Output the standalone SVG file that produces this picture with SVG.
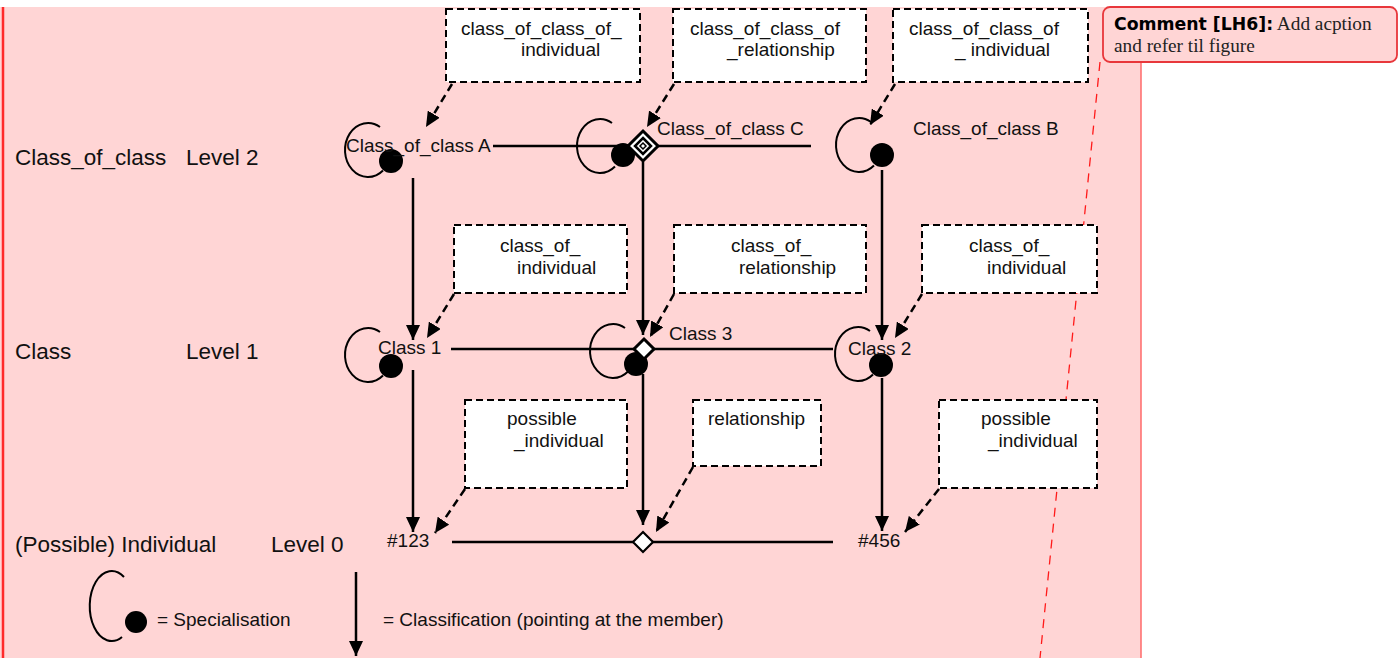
<svg xmlns="http://www.w3.org/2000/svg" width="1398" height="658" viewBox="0 0 1398 658">
<style>
.t{font-family:"Liberation Sans",Arial,sans-serif;font-size:19px;fill:#111}
.big{font-family:"Liberation Sans",Arial,sans-serif;font-size:22.5px;fill:#111}
.box{fill:#fff;stroke:#000;stroke-width:2;stroke-dasharray:7 4}
.dash{stroke:#000;stroke-width:2.5;stroke-dasharray:8 5;fill:none}
.solid{stroke:#000;stroke-width:2.5;fill:none}
.loop{stroke:#000;stroke-width:2;fill:none}
.dot{fill:#000}
.dia{fill:#fff;stroke:#000}
</style>
<defs>
<marker id="ah" markerUnits="userSpaceOnUse" markerWidth="16" markerHeight="14" refX="15" refY="7" orient="auto" viewBox="0 0 16 14">
<path d="M0,0 L15,7 L0,14 z" fill="#000"/>
</marker>
</defs>
<rect x="0" y="7" width="1141" height="651" fill="#ffd5d5"/>
<line x1="3" y1="7" x2="3" y2="658" stroke="#ff2a2a" stroke-width="2.5"/>
<line x1="1141" y1="62" x2="1141" y2="658" stroke="#ff6a6a" stroke-width="1.5"/>
<line x1="1100" y1="62" x2="1040" y2="658" stroke="#ff1a1a" stroke-width="1.3" stroke-dasharray="9 7"/>
<g id="comment">
<rect x="1103" y="7" width="294" height="55" rx="7" fill="#ffd5d5" stroke="#e8373b" stroke-width="1.8"/>
<text x="1114" y="30" style="font-family:'DejaVu Sans',Verdana,sans-serif;font-weight:bold;font-size:17.3px" fill="#000">Comment [LH6]:<tspan style="font-family:'Liberation Serif','Times New Roman',serif;font-weight:normal;font-size:19.3px" fill="#222"> Add acption</tspan></text>
<text x="1114" y="52" style="font-family:'Liberation Serif','Times New Roman',serif;font-size:19.3px" fill="#222">and refer til figure</text>
</g>
<g id="labels">
<text class="big" x="15" y="165">Class_of_class</text>
<text class="big" x="186" y="165">Level 2</text>
<text class="big" x="15" y="359">Class</text>
<text class="big" x="186" y="359">Level 1</text>
<text class="big" x="15" y="552">(Possible) Individual</text>
<text class="big" x="271" y="552">Level 0</text>
</g>
<g id="connectors">
<line class="solid" x1="493" y1="146" x2="811" y2="146"/>
<line class="solid" x1="451" y1="349" x2="833" y2="349"/>
<line class="solid" x1="452" y1="542" x2="833" y2="542"/>
<line class="solid" x1="413" y1="178" x2="413" y2="340" marker-end="url(#ah)"/>
<line class="solid" x1="643" y1="162" x2="643" y2="335" marker-end="url(#ah)"/>
<line class="solid" x1="882" y1="170" x2="882" y2="340" marker-end="url(#ah)"/>
<line class="solid" x1="413" y1="370" x2="413" y2="532" marker-end="url(#ah)"/>
<line class="solid" x1="643" y1="374" x2="643" y2="525" marker-end="url(#ah)"/>
<line class="solid" x1="882" y1="378" x2="882" y2="531" marker-end="url(#ah)"/>
<line class="dash" x1="452" y1="84" x2="426" y2="127" marker-end="url(#ah)"/>
<line class="dash" x1="674" y1="84" x2="647" y2="127" marker-end="url(#ah)"/>
<line class="dash" x1="895" y1="84" x2="870" y2="125" marker-end="url(#ah)"/>
<line class="dash" x1="454" y1="294" x2="427" y2="338" marker-end="url(#ah)"/>
<line class="dash" x1="674" y1="294" x2="650" y2="337" marker-end="url(#ah)"/>
<line class="dash" x1="922" y1="294" x2="895" y2="338" marker-end="url(#ah)"/>
<line class="dash" x1="465" y1="489" x2="435" y2="533" marker-end="url(#ah)"/>
<line class="dash" x1="693" y1="467" x2="656" y2="532" marker-end="url(#ah)"/>
<line class="dash" x1="939" y1="489" x2="905" y2="532" marker-end="url(#ah)"/>
</g>
<g id="box1"><rect class="box" x="446" y="9" width="194" height="73"/><text class="t" x="461" y="35">class_of_class_of_</text><text class="t" x="521" y="56">individual</text></g>
<g id="box2"><rect class="box" x="673" y="9" width="193" height="73"/><text class="t" x="690" y="35">class_of_class_of</text><text class="t" x="727" y="56">_relationship</text></g>
<g id="box3"><rect class="box" x="893" y="9" width="195" height="73"/><text class="t" x="909" y="35">class_of_class_of</text><text class="t" x="955" y="56">_ individual</text></g>
<g id="box4"><rect class="box" x="454" y="225" width="173" height="68"/><text class="t" x="500" y="252">class_of_</text><text class="t" x="517" y="274">individual</text></g>
<g id="box5"><rect class="box" x="674" y="225" width="192" height="68"/><text class="t" x="731" y="252">class_of_</text><text class="t" x="739" y="274">relationship</text></g>
<g id="box6"><rect class="box" x="922" y="225" width="175" height="68"/><text class="t" x="969" y="252">class_of_</text><text class="t" x="987" y="274">individual</text></g>
<g id="box7"><rect class="box" x="465" y="400" width="162" height="88"/><text class="t" x="507" y="425">possible</text><text class="t" x="514" y="447">_individual</text></g>
<g id="box8"><rect class="box" x="693" y="400" width="128" height="66"/><text class="t" x="708" y="425">relationship</text></g>
<g id="box9"><rect class="box" x="939" y="400" width="158" height="88"/><text class="t" x="981" y="425">possible</text><text class="t" x="988" y="447">_individual</text></g>
<g id="nodeA">
<path class="loop" d="M380,127 A23,27 0 1,0 383,170.5"/>
<circle class="dot" cx="391" cy="161" r="12"/>
<text class="t" x="346" y="152">Class_of_class A</text>
</g>
<g id="nodeC">
<path class="loop" d="M612,123 A23,27 0 1,0 615,166.5"/>
<circle class="dot" cx="623" cy="155" r="12"/>
<path class="dia" stroke-width="3" d="M643,131 L658,146 L643,161 L628,146 z"/>
<path class="dia" stroke-width="2.5" d="M643,138 L651,146 L643,154 L635,146 z"/>
<path class="dia" stroke-width="1.5" d="M643,143 L646,146 L643,149 L640,146 z"/>
<text class="t" x="657" y="135">Class_of_class C</text>
</g>
<g id="nodeB">
<path class="loop" d="M871,122 A23,27 0 1,0 874,165.5"/>
<circle class="dot" cx="882" cy="155" r="12"/>
<text class="t" x="913" y="135">Class_of_class B</text>
</g>
<g id="class1">
<path class="loop" d="M380,332 A23,27 0 1,0 383,375.5"/>
<circle class="dot" cx="391" cy="366" r="12"/>
<text class="t" x="378" y="354">Class 1</text>
</g>
<g id="class3">
<path class="loop" d="M625,328 A23,27 0 1,0 628,371.5"/>
<circle class="dot" cx="636" cy="364" r="12"/>
<path class="dia" stroke-width="3" d="M644,339 L654,349 L644,359 L634,349 z"/>
<text class="t" x="669" y="340">Class 3</text>
</g>
<g id="class2">
<path class="loop" d="M870,331 A23,27 0 1,0 873,374.5"/>
<circle class="dot" cx="881" cy="365" r="12"/>
<text class="t" x="848" y="355">Class 2</text>
</g>
<g id="ind123"><text class="t" x="387" y="547">#123</text></g>
<g id="rel0"><path class="dia" stroke-width="2.2" d="M643,532 L653,542 L643,552 L633,542 z"/></g>
<g id="ind456"><text class="t" x="858" y="547">#456</text></g>
<g id="legend">
<path class="loop" d="M124,577 A22,35 0 1,0 122,637"/>
<circle class="dot" cx="136" cy="622" r="11"/>
<text class="t" x="157" y="626">= Specialisation</text>
<line class="solid" x1="356" y1="572" x2="356" y2="656" marker-end="url(#ah)"/>
<text class="t" x="383" y="626">= Classification (pointing at the member)</text>
</g>
</svg>
